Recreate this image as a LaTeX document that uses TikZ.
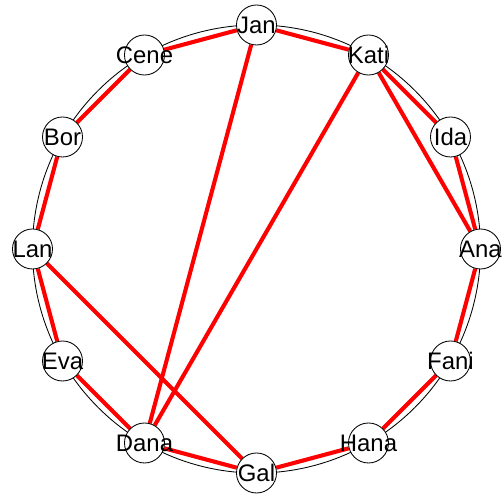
\documentclass[tikz,border=0pt]{standalone}
\usepackage{fontspec}
\setmainfont{Liberation Sans}
\usetikzlibrary{backgrounds}

\begin{document}
\begin{tikzpicture}[x=0.025cm, y=0.025cm,
        person/.style={draw, circle, fill=white, minimum size=1cm, inner sep=0pt,
                       line width=0.6pt, font=\fontsize{17}{17}\selectfont},
        tie/.style={red, line width=2.9pt}]
    \useasboundingbox (-256.5,-248) rectangle (245.5,249);

    % People placed round the ring, clockwise from the top
    \foreach \name [count=\i] in {Jan,Kati,Ida,Ana,Fani,Hana,Gal,Dana,Eva,Lan,Bor,Cene}
        \node[person] (\name) at ({90-30*(\i-1)}:224)
            {\makebox[0pt]{\raisebox{-1.5pt}{\name}}};

    \begin{scope}[on background layer]
        % Ring
        \draw[line width=0.6pt] (0,0) circle (5.6cm);
        % Ties between neighbours
        \draw[tie] (Jan) -- (Kati);
        \draw[tie] (Kati) -- (Ida);
        \draw[tie] (Ida) -- (Ana);
        \draw[tie] (Ana) -- (Fani);
        \draw[tie] (Fani) -- (Hana);
        \draw[tie] (Hana) -- (Gal);
        \draw[tie] (Gal) -- (Dana);
        \draw[tie] (Dana) -- (Eva);
        \draw[tie] (Eva) -- (Lan);
        \draw[tie] (Lan) -- (Bor);
        \draw[tie] (Bor) -- (Cene);
        \draw[tie] (Cene) -- (Jan);
        % Ties across the ring
        \draw[tie] (Kati) -- (Ana);
        \draw[tie] (Jan) -- (Dana);
        \draw[tie] (Kati) -- (Dana);
        \draw[tie] (Lan) -- (Gal);
    \end{scope}
\end{tikzpicture}
\end{document}
